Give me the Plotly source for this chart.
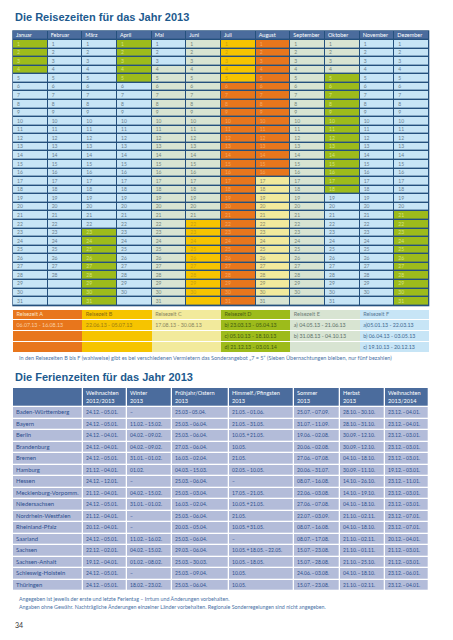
import plotly.graph_objects as go

W, H = 453, 640

# ---------------- data ----------------
months = ["Januar", "Februar", "März", "April", "Mai", "Juni", "Juli",
          "August", "September", "Oktober", "November", "Dezember"]
days_in_month = [31, 28, 31, 30, 31, 30, 31, 31, 30, 31, 30, 31]
# (period, first day, last day) per month
month_periods = [
    [("D", 1, 4), ("F", 5, 31)],
    [("F", 1, 31)],
    [("F", 1, 22), ("D", 23, 31)],
    [("D", 1, 5), ("F", 6, 31)],
    [("F", 1, 3), ("E", 4, 31)],
    [("E", 1, 21), ("B", 22, 31)],
    [("B", 1, 5), ("A", 6, 31)],
    [("A", 1, 16), ("C", 17, 30), ("E", 31, 31)],
    [("E", 1, 31)],
    [("E", 1, 4), ("D", 5, 18), ("F", 19, 31)],
    [("F", 1, 31)],
    [("F", 1, 20), ("D", 21, 31)],
]
period_keys = ["A", "B", "C", "D", "E", "F"]
period_labels = ["Reisezeit A", "Reisezeit B", "Reisezeit C",
                 "Reisezeit D", "Reisezeit E", "Reisezeit F"]
period_dates = [
    ["06.07.13 - 16.08.13", "", ""],
    ["22.06.13 - 05.07.13", "", ""],
    ["17.08.13 - 30.08.13", "", ""],
    ["b) 23.03.13 - 05.04.13", "c) 05.10.13 - 18.10.13", "d) 21.12.13 - 03.01.14"],
    ["a) 04.05.13 - 21.06.13", "b) 31.08.13 - 04.10.13", ""],
    ["a)05.01.13 - 22.03.13", "b) 06.04.13 - 03.05.13", "c) 19.10.13 - 20.12.13"],
]
special_note = ("In den Reisezeiten B bis F (wahlweise) gibt es bei verschiedenen Vermietern das "
                "Sonderangebot „7 = 5“ (Sieben Übernachtungen bleiben, nur fünf bezahlen)")

ferien_headers = ["", "Weihnachten<br>2012/2013", "Winter<br>2013", "Frühjahr/Ostern<br>2013",
                  "Himmelf./Pfingsten<br>2013", "Sommer<br>2013", "Herbst<br>2013",
                  "Weihnachten<br>2013/2014"]
states = ["Baden-Württemberg", "Bayern", "Berlin", "Brandenburg", "Bremen", "Hamburg",
          "Hessen", "Mecklenburg-Vorpomm.", "Niedersachsen", "Nordrhein-Westfalen",
          "Rheinland-Pfalz", "Saarland", "Sachsen", "Sachsen-Anhalt",
          "Schleswig-Holstein", "Thüringen"]
weihnachten_12_13 = ["24.12. – 05.01.", "24.12. – 05.01.", "24.12. – 04.01.", "24.12. – 04.01.",
                     "24.12. – 05.01.", "21.12. – 04.01.", "24.12. – 12.01.", "21.12. – 04.01.",
                     "24.12. – 05.01.", "21.12. – 04.01.", "20.12. – 04.01.", "24.12. – 05.01.",
                     "22.12. – 02.01.", "19.12. – 04.01.", "24.12. – 05.01.", "24.12. – 05.01."]
winter_13 = ["–", "11.02. – 15.02.", "04.02. – 09.02.", "04.02. – 09.02.", "31.01. – 01.02.",
             "01.02.", "–", "04.02. – 15.02.", "31.01. – 01.02.", "–", "–",
             "11.02. – 16.02.", "04.02. – 15.02.", "01.02. – 08.02.", "–", "18.02. – 23.02."]
ostern_13 = ["25.03 – 05.04.", "25.03. – 06.04.", "25.03. – 06.04.", "27.03. – 06.04.",
             "16.03. – 02.04.", "04.03. – 15.03.", "25.03. – 06.04.", "25.03. – 03.04.",
             "16.03. – 02.04.", "25.03. – 06.04.", "20.03. – 05.04.", "25.03. – 06.04.",
             "29.03. – 06.04.", "25.03. – 30.03.", "25.03. – 09.04.", "25.03. – 06.04."]
pfingsten_13 = ["21.05. – 01.06.", "21.05. – 31.05.", "10.05. + 21.05.", "10.05.", "21.05.",
                "02.05. – 10.05.", "–", "17.05. – 21.05.", "10.05. + 21.05.", "21.05.",
                "10.05. + 31.05.", "–", "10.05. + 18.05. – 22.05.", "10.05. – 18.05.",
                "10.05.", "10.05."]
sommer_13 = ["25.07. – 07.09.", "31.07. – 11.09.", "19.06. – 02.08.", "20.06. – 02.08.",
             "27.06. – 07.08.", "20.06. – 31.07.", "08.07. – 16.08.", "22.06. – 03.08.",
             "27.06. – 07.08.", "22.07. – 03.09.", "08.07. – 16.08.", "08.07. – 17.08.",
             "15.07. – 23.08.", "15.07. – 28.08.", "24.06. – 03.08.", "15.07. – 23.08."]
herbst_13 = ["28.10. – 30.10.", "28.10. – 31.10.", "30.09. – 12.10.", "30.09. – 12.10.",
             "04.10. – 18.10.", "30.09. – 11.10.", "14.10. – 26.10.", "14.10. – 19.10.",
             "04.10. – 18.10.", "21.10. – 02.11.", "04.10. – 18.10.", "21.10. – 02.11.",
             "21.10. – 01.11.", "21.10. – 25.10.", "04.10. – 18.10.", "21.10. – 02.11."]
weihnachten_13_14 = ["23.12. – 04.01.", "23.12. – 04.01.", "23.12. – 03.01.", "23.12. – 03.01.",
                     "23.12. – 03.01.", "19.12. – 03.01.", "23.12. – 11.01.", "23.12. – 03.01.",
                     "23.12. – 03.01.", "23.12. – 07.01.", "23.12. – 07.01.", "20.12. – 04.01.",
                     "21.12. – 03.01.", "21.12. – 03.01.", "23.12. – 06.01.", "23.12. – 04.01."]
footnote_1 = "Angegeben ist jeweils der erste und letzte Ferientag – Irrtum und Änderungen vorbehalten."
footnote_2 = ("Angaben ohne Gewähr. Nachträgliche Änderungen einzelner Länder vorbehalten. "
              "Regionale Sonderregelungen sind nicht angegeben.")
page_number = "34"

# ---------------- style ----------------
period_fill = {"A": "#e8761c", "B": "#f6c400", "C": "#f2ea9c", "D": "#9dbb1b",
               "E": "#d8e4d2", "F": "#c7e5f6"}
period_text = {"A": "#f4a865", "B": "#c99f12", "C": "#8d8a6a", "D": "#d3e385",
               "E": "#76857a", "F": "#6a7f8e"}
legend_head_text = {"A": "#fbe3c6", "B": "#8a6a10", "C": "#8a8560", "D": "#4e6110",
                    "E": "#6f8078", "F": "#5a7a98"}
legend_body_text = {"A": "#f9cfa4", "B": "#9a7a12", "C": "#8a8560", "D": "#3f5a10",
                    "E": "#5a6f68", "F": "#3e6890"}
HEAD_BLUE = "#4b6c9d"
GRID_NAVY = "#24507d"
FERIEN_FILL = "#b3bcd9"
FERIEN_TEXT = "#2c4e8e"
TITLE_BLUE = "#1d5a8e"
NOTE_BLUE = "#4a72a6"
FONT = "Lato"
THIN = "\u2009"

# geometry
L, R = 13, 429
CAL_TOP, CAL_HEAD = 31, 9.0
CAL_ROW = 8.57
LEG_TOP = 310
LEG_ROWS = [10, 11, 11, 11]
FER_TOP = 388
FER_HEAD = 19
FER_ROW = 11.5
FER_COL_W = [70, 44, 45, 57, 65, 46, 45, 44]


def discrete_scale(colors):
    n = len(colors)
    cs = []
    for i, c in enumerate(colors):
        cs.append([i / n, c])
        cs.append([(i + 1) / n, c])
    return cs


def grid(xe, ye, z, colors, gx, gy):
    return go.Heatmap(x=xe, y=ye, z=z, colorscale=discrete_scale(colors),
                      zmin=-0.5, zmax=len(colors) - 0.5, showscale=False,
                      xgap=gx, ygap=gy, hoverinfo="skip")


def cumulative(start, sizes):
    out = [start]
    for s in sizes:
        out.append(out[-1] + s)
    return out


def tight(s):
    return s.replace(" – ", THIN + "–" + THIN).replace(" + ", THIN + "+" + THIN)


fig = go.Figure()

# ---------- calendar ----------
ncol = len(months)
cw = (R - L) / ncol
cal_xe = [L + i * cw for i in range(ncol + 1)]
cal_ye = cumulative(CAL_TOP, [CAL_HEAD] + [CAL_ROW] * 31)
cal_colors = [period_fill[k] for k in period_keys] + [HEAD_BLUE]
pidx = {k: i for i, k in enumerate(period_keys)}


def period_of(c, d):
    for k, a, b in month_periods[c]:
        if a <= d <= b:
            return k
    return month_periods[c][-1][0]


z = [[len(period_keys)] * ncol]
for d in range(1, 32):
    z.append([pidx[period_of(c, d)] for c in range(ncol)])

fig.add_trace(grid([L - 0.7, R + 0.7], [CAL_TOP - 0.7, cal_ye[-1] + 0.7], [[0]], [GRID_NAVY], 0, 0))
fig.add_trace(grid(cal_xe, cal_ye, z, cal_colors, 1, 1.4))

tx, ty, tt, tc, ts = [], [], [], [], []
for c, m in enumerate(months):
    tx.append(cal_xe[c] + 3)
    ty.append((cal_ye[0] + cal_ye[1]) / 2)
    tt.append(m)
    tc.append("#ffffff")
    ts.append(5.5)
    for d in range(1, days_in_month[c] + 1):
        tx.append(cal_xe[c] + 4)
        ty.append((cal_ye[d] + cal_ye[d + 1]) / 2)
        tt.append(str(d))
        tc.append(period_text[period_of(c, d)])
        ts.append(5)

# ---------- legend of periods ----------
lw = (R - L) / len(period_keys)
leg_xe = [L + i * lw for i in range(len(period_keys) + 1)]
leg_ye = cumulative(LEG_TOP, LEG_ROWS)
leg_z = [[i for i in range(len(period_keys))] for _ in LEG_ROWS]
fig.add_trace(grid(leg_xe, leg_ye, leg_z, [period_fill[k] for k in period_keys], 0, 1))
for i, k in enumerate(period_keys):
    tx.append(leg_xe[i] + 3.5)
    ty.append((leg_ye[0] + leg_ye[1]) / 2)
    tt.append(period_labels[i])
    tc.append(legend_head_text[k])
    ts.append(5.5)
    for r, s in enumerate(period_dates[i]):
        if s:
            tx.append(leg_xe[i] + 3.5)
            ty.append((leg_ye[r + 1] + leg_ye[r + 2]) / 2)
            tt.append(s)
            tc.append(legend_body_text[k])
            ts.append(5.3)

# ---------- Ferien table ----------
fer_xe = cumulative(L, FER_COL_W)
fer_ye = cumulative(FER_TOP, [FER_HEAD] + [FER_ROW] * len(states))
fer_cols = [states, weihnachten_12_13, winter_13, ostern_13, pfingsten_13,
            sommer_13, herbst_13, weihnachten_13_14]
fer_z = [[0] * len(fer_cols)] + [[1] * len(fer_cols) for _ in states]
fig.add_trace(grid(fer_xe, fer_ye, fer_z, [HEAD_BLUE, FERIEN_FILL], 1.3, 1.3))
for c, h in enumerate(ferien_headers):
    if h:
        tx.append(fer_xe[c] + 3)
        ty.append((fer_ye[0] + fer_ye[1]) / 2)
        tt.append(h)
        tc.append("#ffffff")
        ts.append(5.6)
for c, col in enumerate(fer_cols):
    for r, s in enumerate(col):
        tx.append(fer_xe[c] + 3)
        ty.append((fer_ye[r + 1] + fer_ye[r + 2]) / 2)
        tt.append(s if c == 0 else tight(s))
        tc.append(FERIEN_TEXT)
        ts.append(5.9 if c == 0 else 5.0)

fig.add_trace(go.Scatter(x=tx, y=ty, text=tt, mode="text", textposition="middle right",
                         textfont=dict(family=FONT, size=ts, color=tc),
                         hoverinfo="skip", cliponaxis=False, showlegend=False))

# ---------- titles & notes ----------
ann = [
    dict(x=L, y=17, text="<b>Die Reisezeiten für das Jahr 2013</b>",
         font=dict(family="Liberation Sans", size=11, color=TITLE_BLUE)),
    dict(x=L, y=377, text="<b>Die Ferienzeiten für das Jahr 2013</b>",
         font=dict(family="Liberation Sans", size=11, color=TITLE_BLUE)),
    dict(x=17, y=358, text=special_note, font=dict(family=FONT, size=5.5, color=NOTE_BLUE)),
    dict(x=17, y=599, text=footnote_1, font=dict(family=FONT, size=5.3, color=NOTE_BLUE)),
    dict(x=17, y=606.5, text=footnote_2, font=dict(family=FONT, size=5.3, color=NOTE_BLUE)),
    dict(x=L, y=625, text=page_number, font=dict(family=FONT, size=7, color="#333333")),
]
for a in ann:
    fig.add_annotation(xref="x", yref="y", xanchor="left", yanchor="middle",
                       showarrow=False, **a)

fig.update_xaxes(range=[0, W], visible=False, fixedrange=True)
fig.update_yaxes(range=[H, 0], visible=False, fixedrange=True)
fig.update_layout(width=W, height=H, margin=dict(l=0, r=0, t=0, b=0),
                  plot_bgcolor="#ffffff", paper_bgcolor="#ffffff", showlegend=False)

fig.write_html("out.html", config={"displayModeBar": False},
               post_script="document.body.style.margin='0';")
